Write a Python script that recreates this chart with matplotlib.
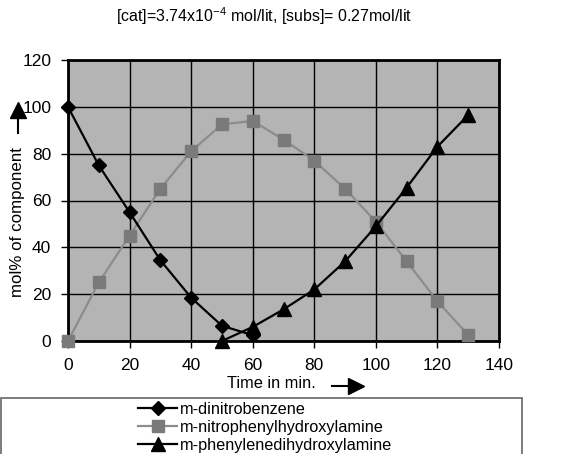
import matplotlib
matplotlib.use("Agg")
import matplotlib.pyplot as plt
from matplotlib.patches import Rectangle

plt.rcParams['font.family'] = ['Liberation Sans', 'DejaVu Sans']
plt.rcParams['mathtext.fontset'] = 'custom'
plt.rcParams['mathtext.rm'] = 'Liberation Sans'
plt.rcParams['mathtext.it'] = 'Liberation Sans'

# data
time_dnb = [0, 10, 20, 30, 40, 50, 60]
dnb = [100, 75, 55, 34.5, 18.5, 6.5, 2.5]

time_nph = [0, 10, 20, 30, 40, 50, 60, 70, 80, 90, 100, 110, 120, 130]
nph = [0, 25, 45, 65, 81, 92.5, 94, 86, 77, 65, 51, 34, 17, 2.5]

time_pdh = [50, 60, 70, 80, 90, 100, 110, 120, 130]
pdh = [0, 6, 13.5, 22, 34, 49, 65.5, 83, 96.5]

xticks = [0, 20, 40, 60, 80, 100, 120, 140]
yticks = [0, 20, 40, 60, 80, 100, 120]

fig = plt.figure(figsize=(5.64, 4.54), dpi=100)
ax = fig.add_axes([68/564, 1-341/454, (499-68)/564, (341-60)/454])
ax.set_facecolor('#b4b4b4')

l1, = ax.plot(time_dnb, dnb, color='black', lw=1.6, marker='D', ms=7.5, mfc='black', mec='black', clip_on=False, zorder=5)
l2, = ax.plot(time_nph, nph, color='#8c8c8c', lw=1.6, marker='s', ms=9, mfc='#7a7a7a', mec='#7a7a7a', clip_on=False, zorder=4)
l3, = ax.plot(time_pdh, pdh, color='black', lw=1.6, marker='^', ms=9.5, mfc='black', mec='black', clip_on=False, zorder=6)

ax.set_xlim(0, 140)
ax.set_ylim(0, 120)
ax.set_xticks(xticks)
ax.set_yticks(yticks)
ax.grid(True, color='black', lw=1.0)
ax.set_axisbelow(True)
for s in ax.spines.values():
    s.set_linewidth(2)
ax.tick_params(labelsize=12.5, length=5, width=1, direction='out', pad=7)

fig.text(264/564, 1-16/454, r'[cat]=3.74x10$^{-4}$ mol/lit, [subs]= 0.27mol/lit',
         ha='center', va='center', fontsize=11.5)

# y label with arrow
fig.text(18/564, 1-222/454, 'mol% of component', rotation=90, ha='center', va='center', fontsize=12.2)
fig.add_artist(plt.Line2D([18/564, 18/564], [1-133/454, 1-112/454], color='black', lw=1.5))
fig.add_artist(plt.Line2D([18/564], [1-110/454], marker='^', ms=12, color='black'))

# x label with arrow
fig.text(271/564, 1-383/454, 'Time in min.', ha='center', va='center', fontsize=11.8)
fig.add_artist(plt.Line2D([332/564, 352/564], [1-386/454, 1-386/454], color='black', lw=1.5))
fig.add_artist(plt.Line2D([356/564], [1-386/454], marker='>', ms=12, color='black'))

# legend box
fig.add_artist(Rectangle((0.001, -0.05), 521/564, 0.05+(454-398)/454, transform=fig.transFigure,
                         fill=False, edgecolor='#666666', lw=1.2))
fig.legend([l1, l2, l3], ['m-dinitrobenzene', 'm-nitrophenylhydroxylamine', 'm-phenylenedihydroxylamine'],
           loc='upper left', bbox_to_anchor=(138/564, 1-402/454), frameon=False, fontsize=11.7,
           handlelength=2.4, handletextpad=0.15, labelspacing=0.18, borderpad=0, borderaxespad=0)

fig.savefig('out.png', dpi=100)
